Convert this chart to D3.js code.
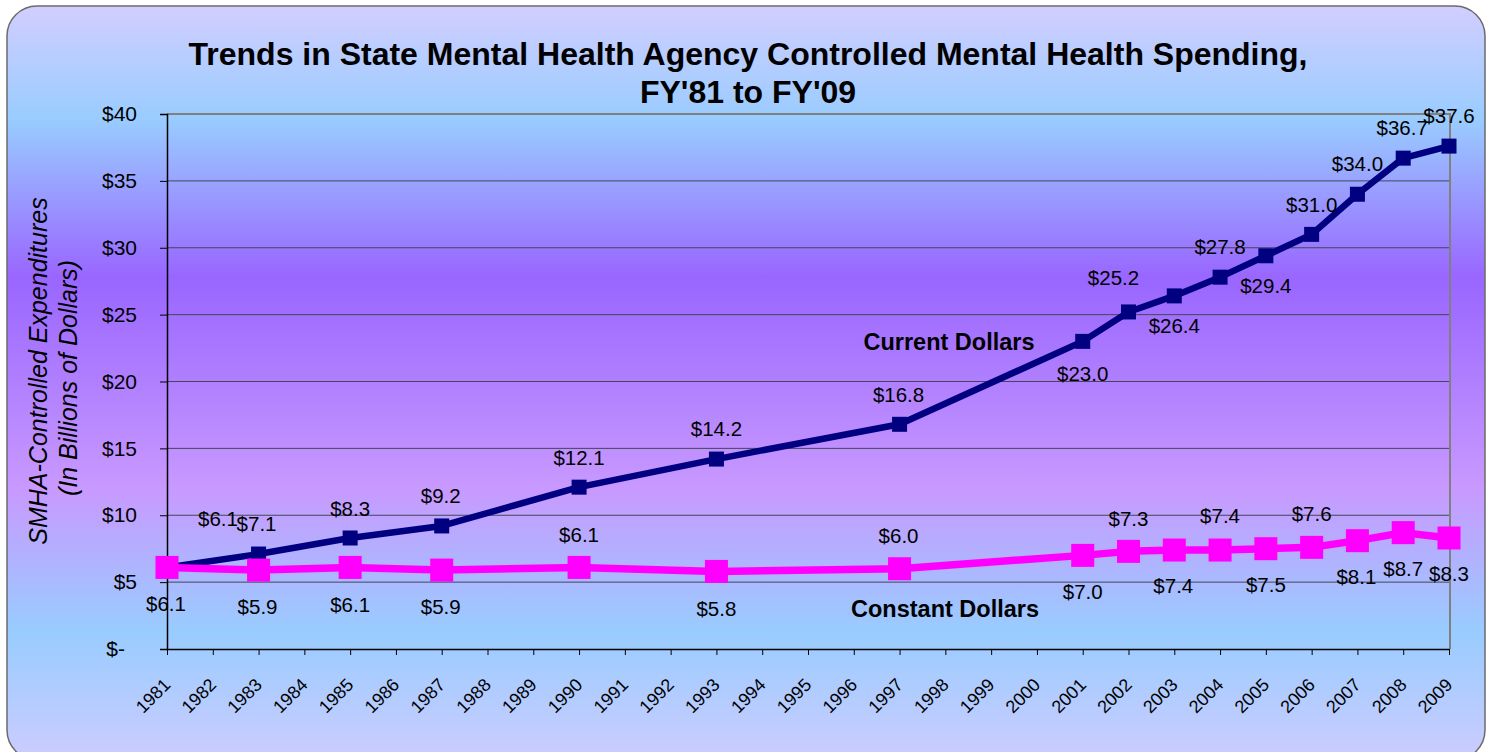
<!DOCTYPE html>
<html>
<head>
<meta charset="utf-8">
<script src="https://cdn.jsdelivr.net/npm/d3@7"></script>
<style>
  body { margin: 0; background: #fff; }
  svg { display: block; font-family: Arial, 'Liberation Sans', sans-serif; }
</style>
</head>
<body>
<svg id="chart" width="1491" height="752"></svg>
<script>
// data
const years = d3.range(1981, 2010).map(String);
const pointYears = ['1981', '1983', '1985', '1987', '1990', '1993', '1997', '2001',
  '2002', '2003', '2004', '2005', '2006', '2007', '2008', '2009'];
const currentDollars = [6.1, 7.1, 8.3, 9.2, 12.1, 14.2, 16.8, 23.0,
  25.2, 26.4, 27.8, 29.4, 31.0, 34.0, 36.7, 37.6];
const constantDollars = [6.1, 5.9, 6.1, 5.9, 6.1, 5.8, 6.0, 7.0,
  7.3, 7.4, 7.4, 7.5, 7.6, 8.1, 8.7, 8.3];
const yTicks = [0, 5, 10, 15, 20, 25, 30, 35, 40];

// where each value label sits relative to its marker (dx, dy)
const currentLabelOffset = [[51, -49], [-2, -30], [0, -29], [-1, -30], [0, -29], [0, -30], [-1, -29],
  [0, 32], [-15, -34], [0, 30], [0, -30], [0, 30], [0, -30], [0, -30], [-1, -30], [0, -30]];
const constantLabelOffset = [[-1, 36], [-1, 37], [0, 37], [-1, 37], [0, -33], [0, 37], [-1, -33],
  [0, 36], [0, -33], [-1, 36], [0, -34], [0, 36], [0, -34], [-1, 36], [0, 36], [0, 36]];

const svg = d3.select('#chart');

// background gradient
const defs = svg.append('defs');
const grad = defs.append('linearGradient')
  .attr('id', 'bg')
  .attr('x1', 0).attr('y1', 0).attr('x2', 0).attr('y2', 1);
[[0, '#d2ceff'], [0.15, '#99ccff'], [0.36, '#9966ff'], [0.64, '#c899ff'], [0.83, '#99ccff'], [1, '#ccccff']]
  .forEach(s => grad.append('stop').attr('offset', s[0]).attr('stop-color', s[1]));

svg.append('rect')
  .attr('x', 7).attr('y', 6)
  .attr('width', 1478).attr('height', 754)
  .attr('rx', 30).attr('ry', 30)
  .attr('fill', 'url(#bg)')
  .attr('stroke', '#6b6b6b')
  .attr('stroke-width', 1.5);

const plot = { left: 167, right: 1449, top: 114, bottom: 649 };

const x = d3.scalePoint().domain(years).range([plot.left, plot.right]);
const y = d3.scaleLinear().domain([0, 40]).range([plot.bottom, plot.top]);

// gridlines
svg.append('g')
  .selectAll('line')
  .data(yTicks.filter(t => t > 0 && t < 40))
  .enter()
  .append('line')
  .attr('x1', plot.left).attr('x2', plot.right)
  .attr('y1', d => y(d)).attr('y2', d => y(d))
  .attr('stroke', '#45455a')
  .attr('stroke-width', 1);

// plot frame: top and right in gray
svg.append('path')
  .attr('d', `M${plot.left},${plot.top}H${plot.right + 1}V${plot.bottom}`)
  .attr('fill', 'none')
  .attr('stroke', '#808080')
  .attr('stroke-width', 2);

// y axis
const yAxis = svg.append('g')
  .attr('transform', `translate(${plot.left},0)`)
  .call(d3.axisLeft(y).tickValues(yTicks).tickSize(7).tickPadding(23)
    .tickFormat(d => d === 0 ? '$-' : '$' + d));
yAxis.select('.domain').attr('stroke', '#000').attr('stroke-width', 1.5);
yAxis.selectAll('.tick line').attr('stroke', '#000');
yAxis.selectAll('.tick text')
  .attr('font-size', 21)
  .attr('font-family', 'Arial, Liberation Sans, sans-serif')
  .attr('fill', '#000')
  .attr('dx', d => d === 0 ? -12 : 0);

// x axis
const xAxis = svg.append('g')
  .attr('transform', `translate(0,${plot.bottom})`)
  .call(d3.axisBottom(x).tickSize(6).tickSizeOuter(0));
xAxis.select('.domain').attr('stroke', '#000').attr('stroke-width', 1.5);
xAxis.selectAll('.tick line').attr('stroke', '#000');
xAxis.selectAll('.tick text')
  .attr('font-size', 18)
  .attr('font-family', 'Arial, Liberation Sans, sans-serif')
  .attr('fill', '#000')
  .attr('text-anchor', 'end')
  .attr('y', 0)
  .attr('dy', 0)
  .attr('transform', 'translate(4,37) rotate(-45)');

const pts = (vals) => pointYears.map((yr, i) => ({ yr, v: vals[i] }));

function drawSeries(vals, color, lineW, size) {
  const data = pts(vals);
  const line = d3.line().x(d => x(d.yr)).y(d => y(d.v));
  svg.append('path')
    .datum(data)
    .attr('d', line)
    .attr('fill', 'none')
    .attr('stroke', color)
    .attr('stroke-width', lineW)
    .attr('stroke-linejoin', 'round');
  svg.append('g')
    .selectAll('rect')
    .data(data)
    .enter()
    .append('rect')
    .attr('x', d => x(d.yr) - size / 2)
    .attr('y', d => y(d.v) - size / 2)
    .attr('width', size)
    .attr('height', size)
    .attr('fill', color);
  return data;
}

function drawLabels(data, offsets) {
  svg.append('g')
    .selectAll('text')
    .data(data)
    .enter()
    .append('text')
    .attr('x', (d, i) => x(d.yr) + offsets[i][0])
    .attr('y', (d, i) => y(d.v) + offsets[i][1])
    .attr('dy', '0.35em')
    .attr('text-anchor', 'middle')
    .attr('font-size', 20.5)
    .attr('fill', '#000')
    .text(d => '$' + d.v.toFixed(1));
}

const curData = drawSeries(currentDollars, '#000080', 6.5, 15);
const conData = drawSeries(constantDollars, '#ff00ff', 7.5, 23);
drawLabels(curData, currentLabelOffset);
drawLabels(conData, constantLabelOffset);

// series names
svg.append('text')
  .attr('x', 949).attr('y', 350)
  .attr('text-anchor', 'middle')
  .attr('font-size', 23.5).attr('font-weight', 'bold')
  .text('Current Dollars');
svg.append('text')
  .attr('x', 945).attr('y', 617)
  .attr('text-anchor', 'middle')
  .attr('font-size', 23.5).attr('font-weight', 'bold')
  .text('Constant Dollars');

// title
const title = svg.append('text')
  .attr('text-anchor', 'middle')
  .attr('font-size', 32)
  .attr('font-weight', 'bold');
title.append('tspan').attr('x', 748).attr('y', 65)
  .text('Trends in State Mental Health Agency Controlled Mental Health Spending,');
title.append('tspan').attr('x', 748).attr('y', 103)
  .text("FY'81 to FY'09");

// y axis title
const yTitle = svg.append('text')
  .attr('text-anchor', 'middle')
  .attr('font-size', 25)
  .attr('font-style', 'italic');
yTitle.append('tspan')
  .attr('transform', 'translate(47,371) rotate(-90)');
svg.append('text')
  .attr('transform', 'translate(47,371) rotate(-90)')
  .attr('text-anchor', 'middle')
  .attr('font-size', 25)
  .attr('font-style', 'italic')
  .text('SMHA-Controlled Expenditures');
svg.append('text')
  .attr('transform', 'translate(77,378) rotate(-90)')
  .attr('text-anchor', 'middle')
  .attr('font-size', 25)
  .attr('font-style', 'italic')
  .text('(In Billions of Dollars)');
yTitle.remove();
</script>
</body>
</html>
